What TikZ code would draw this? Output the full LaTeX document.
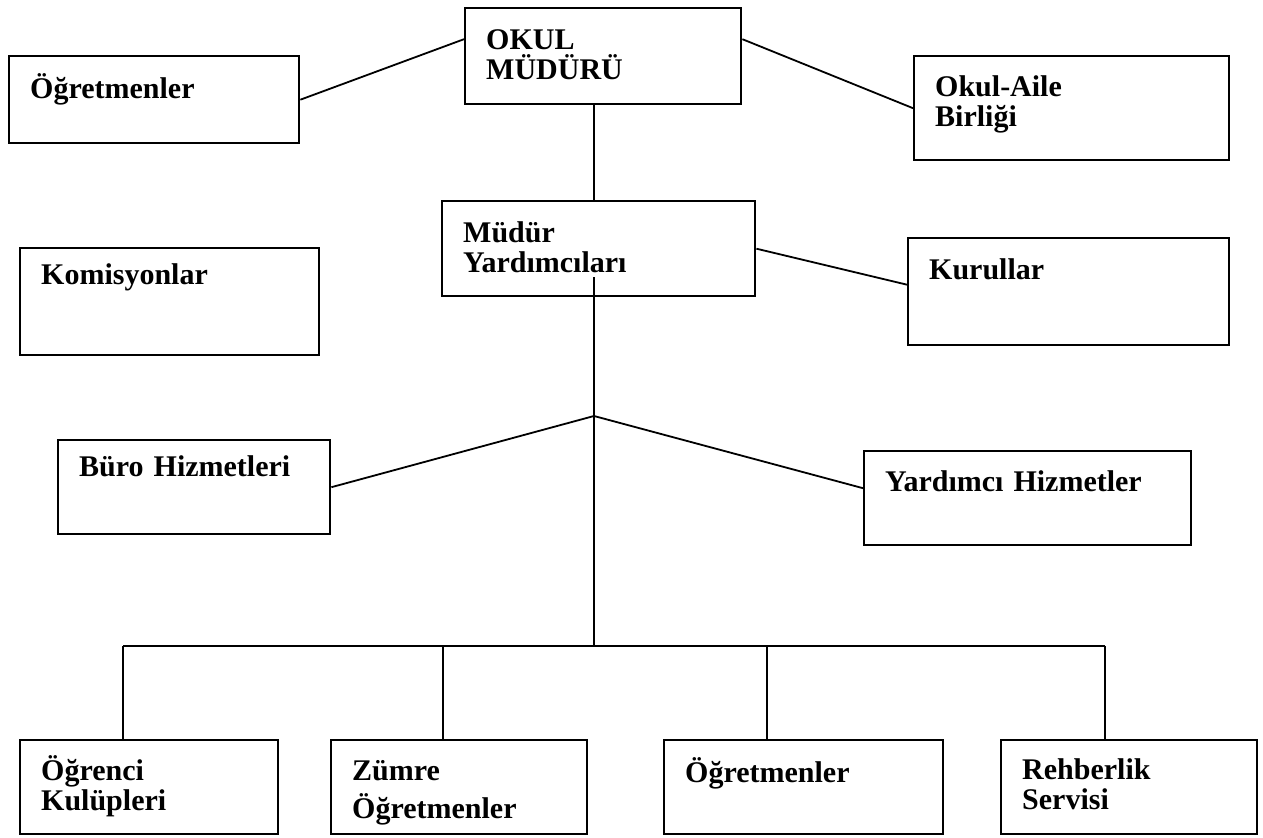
\documentclass[tikz,border=0pt]{standalone}
\usepackage{fontspec}
\setmainfont{Liberation Serif}
\usetikzlibrary{positioning}

\tikzset{
  birim/.style n args={3}{draw, line width=1.2pt, anchor=north west, align=left,
    inner xsep=10.5pt, inner ysep=0pt,
    text width=#1pt, text height=#2pt, text depth=#3pt,
    font=\bfseries\fontsize{15}{15}\selectfont},
  baglanti/.style={line width=0.9pt},
}

\begin{document}
\begin{tikzpicture}[x=0.5pt, y=-0.5pt]
        \useasboundingbox (0,0) rectangle (1263,838);

        % Ust kademe
        \node[birim={117}{20.5}{27.5}] (mudur) at (464,7) {OKUL\\MÜDÜRÜ};
        \node[birim={124}{21}{22.5}] (ogrt) at (8,55) {Öğretmenler};
        \node[birim={136.5}{20}{32}] (veli) at (913,55) {Okul-Aile\\Birliği};

        % Mudur yardimcilari ve kurullar
        \node[birim={135.5}{20.5}{27}] (myard) at (441,200) {Müdür\\Yardımcıları};
        \node[birim={139.5}{20.5}{33}] (kurul) at (907,237) {Kurullar};
        \node[birim={128.5}{18}{35.5}] (komis) at (19,247) {Komisyonlar};

        % Hizmetler
        \node[birim={115}{18}{29}] (buro) at (57,439) {Büro Hizmetleri};
        \node[birim={142.5}{20}{27}] (yardh) at (863,450) {Yardımcı Hizmetler};

        % Alt kademe
        \node[birim={108}{20}{27}] (kulup) at (19,739) {Öğrenci\\Kulüpleri};
        \node[birim={107}{20}{27}] (zumre) at (330,739) {Zümre\\[4pt]Öğretmenler};
        \node[birim={118.5}{21}{26}] (ogrt2) at (663,739) {Öğretmenler};
        \node[birim={107}{19.5}{27.5}] (rehber) at (1000,739) {Rehberlik\\Servisi};

        % Dallanma noktalari
        \coordinate (hub) at (594,416);
        \coordinate (bus) at (594,646);

        % Ust baglantilar
        \draw[baglanti] (ogrt.east) -- ([yshift=8.5pt]mudur.west);
        \draw[baglanti] ([yshift=8.5pt]mudur.east) -- (veli.west);
        \draw[baglanti] (mudur.south -| hub) -- (myard.north -| hub);
        \draw[baglanti] (myard.east) -- ([yshift=3.5pt]kurul.west);

        % Orta baglantilar
        \draw[baglanti] ([yshift=10pt]myard.south -| hub) -- (hub);
        \draw[baglanti] (hub) -- (buro.east);
        \draw[baglanti] (hub) -- ([yshift=5pt]yardh.west);
        \draw[baglanti] (hub) -- (bus);

        % Alt baglantilar
        \draw[baglanti] ([xshift=-13pt]kulup.north |- bus) -- ([xshift=-12pt]rehber.north |- bus);
        \foreach \n/\s in {kulup/-13, zumre/-8, ogrt2/-18.25, rehber/-12}
          \draw[baglanti] ([xshift=\s pt]\n.north |- bus) -- ([xshift=\s pt]\n.north);

\end{tikzpicture}
\end{document}
